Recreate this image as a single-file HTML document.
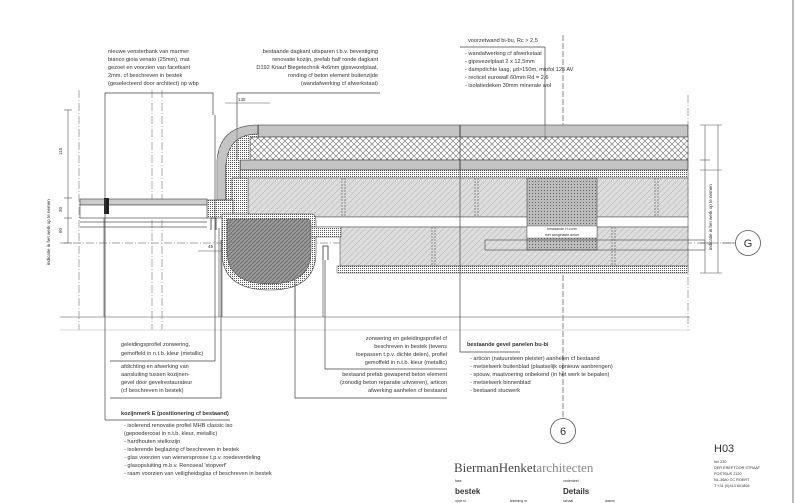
<!DOCTYPE html>
<html><head><meta charset="utf-8"><style>
html,body{margin:0;padding:0;background:#fff;}
svg{display:block;}
text{font-family:"Liberation Sans",sans-serif;fill:#333;}
.n{font-size:5.6px;}
</style></head><body>
<svg width="805" height="503" viewBox="0 0 805 503" xmlns="http://www.w3.org/2000/svg">
<defs>
<pattern id="vh" width="2" height="4" patternUnits="userSpaceOnUse"><rect width="2" height="4" fill="#fff"/><line x1="1" y1="0" x2="1" y2="4" stroke="#555" stroke-width="0.7"/></pattern>
<pattern id="xh" width="6" height="6" patternUnits="userSpaceOnUse"><rect width="6" height="6" fill="#fff"/><path d="M0 0L6 6M6 0L0 6" stroke="#666" stroke-width="0.6"/></pattern>
<pattern id="dh" width="6" height="6" patternUnits="userSpaceOnUse"><rect width="6" height="6" fill="#ddd"/><path d="M0 6L6 0" stroke="#bbb" stroke-width="0.7"/></pattern>
<pattern id="dot" width="2" height="2" patternUnits="userSpaceOnUse"><rect width="2" height="2" fill="#fff"/><rect width="1" height="1" fill="#555"/></pattern>
<pattern id="dk" width="4" height="4" patternUnits="userSpaceOnUse"><rect width="4" height="4" fill="#999"/><path d="M0 4L4 0" stroke="#666" stroke-width="0.8"/></pattern>
<pattern id="sp" width="3" height="3" patternUnits="userSpaceOnUse"><rect width="3" height="3" fill="#bbb"/><rect x="1" y="1" width="1" height="1" fill="#666"/></pattern>
</defs>
<rect width="805" height="503" fill="#fff"/>
<!-- right border -->
<line x1="793" y1="0" x2="793" y2="503" stroke="#777" stroke-width="1"/>

<!-- construction lines -->
<g stroke="#888" stroke-width="0.7" stroke-dasharray="8 2 1 2" fill="none">
<line x1="79" y1="90" x2="79" y2="330"/>
<line x1="152" y1="90" x2="152" y2="330"/>
<line x1="162" y1="90" x2="162" y2="330"/>
<line x1="688" y1="95" x2="688" y2="330"/>
<line x1="60" y1="243" x2="735" y2="243"/>
</g>
<line x1="563" y1="35" x2="563" y2="418" stroke="#555" stroke-width="0.7" stroke-dasharray="6 2"/>
<line x1="60" y1="317" x2="690" y2="317" stroke="#888" stroke-width="0.7"/>
<line x1="60" y1="330" x2="690" y2="330" stroke="#ccc" stroke-width="0.7"/>

<!-- wall body -->
<rect x="258" y="125" width="430" height="12" fill="url(#vh)" stroke="#444" stroke-width="0.6"/>
<rect x="250" y="137" width="438" height="23" fill="url(#xh)" stroke="#444" stroke-width="0.6"/>
<rect x="240" y="160" width="448" height="10" fill="url(#vh)" stroke="#444" stroke-width="0.6"/>
<rect x="240" y="170" width="448" height="8" fill="url(#dot)" stroke="#444" stroke-width="0.5"/>
<rect x="248" y="178" width="440" height="39" fill="url(#dh)" stroke="#555" stroke-width="0.6"/>
<rect x="248" y="217" width="440" height="10" fill="#fff" stroke="#555" stroke-width="0.6"/>
<rect x="340" y="227" width="348" height="39" fill="url(#dh)" stroke="#555" stroke-width="0.6"/>
<rect x="337" y="266" width="351" height="7" fill="url(#dot)" stroke="#444" stroke-width="0.5"/>
<rect x="527" y="178" width="70" height="72" fill="url(#sp)" stroke="#444" stroke-width="0.6"/>
<rect x="485" y="240" width="220" height="10" fill="none" stroke="#444" stroke-width="0.6"/>
<rect x="527" y="226" width="70" height="12" fill="#fff" stroke="#444" stroke-width="0.4"/>
<text x="562" y="230" font-size="3.6" text-anchor="middle">bestaande H-vorm</text>
<text x="562" y="236" font-size="3.6" text-anchor="middle">met aangelaste anker</text>
<g stroke="#555" stroke-width="0.6" stroke-dasharray="2 1">
<line x1="475" y1="178" x2="475" y2="217"/><line x1="478" y1="178" x2="478" y2="217"/>
<line x1="655" y1="178" x2="655" y2="217"/><line x1="658" y1="178" x2="658" y2="217"/>
<line x1="342" y1="178" x2="342" y2="217"/><line x1="345" y1="178" x2="345" y2="217"/>
<line x1="432" y1="227" x2="432" y2="266"/><line x1="435" y1="227" x2="435" y2="266"/>
<line x1="612" y1="227" x2="612" y2="266"/><line x1="615" y1="227" x2="615" y2="266"/>
</g>
<!-- rounded corner -->
<path d="M258 125 Q220 125 217 160 L217 200 L226 200 L226 165 Q228 134 258 134 Z" fill="url(#vh)" stroke="#444" stroke-width="0.6"/>
<path d="M226 165 Q228 134 258 134 L258 137 L250 137 L250 160 L240 160 L240 178 L232 178 L232 200 L226 200 Z" fill="url(#dot)" stroke="#444" stroke-width="0.5"/>
<rect x="232" y="178" width="16" height="40" fill="url(#dot)" stroke="#444" stroke-width="0.5"/>
<rect x="207" y="200" width="26" height="18" fill="url(#dot)" stroke="#333" stroke-width="0.6"/>
<!-- lower bulge -->
<path d="M222 214 L312 214 Q316 214 316 222 L316 252 Q316 290 270 290 Q222 290 222 252 Z" fill="url(#dot)" stroke="#444" stroke-width="0.6"/>
<path d="M227 219 L308 219 Q311 219 311 226 L311 252 Q311 284 270 284 Q227 284 227 252 Z" fill="url(#dk)" stroke="#444" stroke-width="0.5"/>
<rect x="311" y="227" width="30" height="10" fill="url(#dot)" stroke="#444" stroke-width="0.5"/>
<path d="M323 260 L323 246 L328 246 L328 260 M211 230 L211 218 L216 218 L216 230" stroke="#333" fill="none" stroke-width="0.8"/>

<!-- window glass -->
<g stroke="#555" stroke-width="0.7" fill="none">
<rect x="80" y="199" width="127" height="6" fill="#ccc"/>
<rect x="80" y="205" width="127" height="13" fill="#fff"/>
<line x1="80" y1="222" x2="207" y2="222"/>
<line x1="80" y1="227" x2="207" y2="227"/>
<line x1="104" y1="218" x2="104" y2="317"/>
<line x1="219" y1="228" x2="219" y2="317"/><line x1="222" y1="228" x2="222" y2="317"/>
<line x1="295" y1="280" x2="295" y2="317"/><line x1="323" y1="260" x2="323" y2="317"/>
</g>
<rect x="104" y="198" width="5" height="16" fill="#222"/>
<!-- left dims -->
<g stroke="#555" stroke-width="0.6"><line x1="68" y1="110" x2="68" y2="243"/>
<line x1="64" y1="110" x2="72" y2="110"/><line x1="64" y1="198" x2="72" y2="198"/><line x1="64" y1="218" x2="72" y2="218"/><line x1="64" y1="243" x2="72" y2="243"/>
<line x1="225" y1="103" x2="270" y2="103"/><line x1="198" y1="251" x2="222" y2="251"/></g>
<text x="62" y="155" font-size="4.5" transform="rotate(-90 62 155)">115</text>
<text x="62" y="212" font-size="4.5" transform="rotate(-90 62 212)">30</text>
<text x="62" y="233" font-size="4.5" transform="rotate(-90 62 233)">60</text>
<text x="238" y="101" font-size="4.5">135</text>
<text x="208" y="248" font-size="4.5">45</text>
<text x="50" y="265" font-size="4.5" transform="rotate(-90 50 265)">indicatie in het werk op te nemen</text>
<!-- right dims -->
<g stroke="#555" stroke-width="0.6"><line x1="705" y1="125" x2="705" y2="273"/><line x1="718" y1="125" x2="718" y2="273"/>
<line x1="700" y1="125" x2="722" y2="125"/><line x1="700" y1="160" x2="710" y2="160"/><line x1="700" y1="170" x2="722" y2="170"/><line x1="700" y1="243" x2="710" y2="243"/><line x1="700" y1="273" x2="722" y2="273"/>
<line x1="722" y1="243" x2="735" y2="243"/></g>
<text x="712" y="250" font-size="4.5" transform="rotate(-90 712 250)">indicatie in het werk op te nemen</text>
<circle cx="748" cy="243" r="12.5" fill="#fff" stroke="#555" stroke-width="0.8"/>
<text x="748" y="247" font-size="11" text-anchor="middle">G</text>
<circle cx="563" cy="431" r="12.5" fill="#fff" stroke="#555" stroke-width="0.8"/>
<text x="563" y="435" font-size="11" text-anchor="middle">6</text>

<!-- leader lines -->
<g stroke="#444" stroke-width="0.7" fill="none">
<path d="M105 420 L105 93 L213 93 L213 115"/>
<path d="M215 115 L215 361 L110 361"/>
<path d="M221 240 L221 398 L110 398"/>
<path d="M237 160 L237 93 L380 93"/>
<path d="M325 260 L325 369 L447 369"/>
<path d="M295 284 L295 398 L447 398"/>
<path d="M460 125 L460 352 L520 352"/>
<path d="M460 47 L545 47"/>
<path d="M545 47 L545 140"/>
<path d="M105 420 L230 420"/>
</g>

<!-- notes -->
<g class="n">
<text x="108" y="53">nieuwe vensterbank van marmer</text>
<text x="108" y="61">bianco gioia venato (25mm), mat</text>
<text x="108" y="69">gezoet en voorzien van facetkant</text>
<text x="108" y="77">2mm, cf beschreven in bestek</text>
<text x="108" y="85">(geselecteerd door architect) op wbp</text>
<g text-anchor="end">
<text x="378" y="53">bestaande dagkant uitsparen t.b.v. bevestiging</text>
<text x="378" y="61">renovatie kozijn, prefab half ronde dagkant</text>
<text x="378" y="69">D192 Knauf Biegetechnik 4x6mm gipsvezelplaat,</text>
<text x="378" y="77">ronding cf beton element buitenzijde</text>
<text x="378" y="85">(wandafwerking cf afwerkstaat)</text>
</g>
<text x="468" y="42">voorzetwand bi-bu, Rc &gt; 2,5</text>
<text x="465" y="55">- wandafwerking cf afwerkstaat</text>
<text x="465" y="63">- gipsvezelplaat 2 x 12,5mm</text>
<text x="465" y="71">- dampdichte laag, µd&gt;150m, miofol 125 AV</text>
<text x="465" y="79">- recticel eurowall 60mm Rd = 2,6</text>
<text x="465" y="87">- isolatiedeken 30mm minerale wol</text>

<text x="121" y="346">geleidingsprofiel zonwering,</text>
<text x="121" y="355">gemoffeld in n.t.b. kleur (metallic)</text>
<text x="121" y="368">afdichting en afwerking van</text>
<text x="121" y="376">aansluiting tussen kozijnen-</text>
<text x="121" y="384">gevel door gevelrestaurateur</text>
<text x="121" y="392">(cf beschreven in bestek)</text>
<text x="121" y="415" font-weight="bold">kozijnmerk E (positionering cf bestaand)</text>
<text x="124" y="427">- isolerend renovatie profiel MHB classic iso</text>
<text x="124" y="435">(gepoedercoat in n.t.b. kleur, metallic)</text>
<text x="124" y="443">- hardhouten stelkozijn</text>
<text x="124" y="451">- isolerende beglazing cf beschreven in bestek</text>
<text x="124" y="459">- glas voorzien van wienersprosse t.p.v. roedeverdeling</text>
<text x="124" y="467">- glasopsluiting m.b.v. Renoseal 'stopverf'</text>
<text x="124" y="475">- raam voorzien van veiligheidsglas cf beschreven in bestek</text>

<g text-anchor="end">
<text x="447" y="340">zonwering en geleidingsprofiel cf</text>
<text x="447" y="348">beschreven in bestek (tevens</text>
<text x="447" y="356">toepassen t.p.v. dichte delen), profiel</text>
<text x="447" y="364">gemoffeld in n.t.b. kleur (metallic)</text>
<text x="447" y="376">bestaand prefab gewapend beton element</text>
<text x="447" y="384">(zonodig beton reparatie uitvoeren), articon</text>
<text x="447" y="392">afwerking aanhelen cf bestaand</text>
</g>
<text x="467" y="346" font-weight="bold">bestaande gevel panelen bu-bi</text>
<text x="470" y="360">- articon (natuursteen pleister) aanhelen cf bestaand</text>
<text x="470" y="368">- metselwerk buitenblad (plaatselijk opnieuw aanbrengen)</text>
<text x="470" y="376">- spouw, maatvoering onbekend (in het werk te bepalen)</text>
<text x="470" y="384">- metselwerk binnenblad</text>
<text x="470" y="392">- bestaand stucwerk</text>
</g>

<!-- title block -->
<text x="454" y="472" font-size="13" style="font-family:'Liberation Serif',serif;fill:#444">BiermanHenket<tspan fill="#888">architecten</tspan></text>
<text x="455" y="482" font-size="3.5">fase</text>
<text x="455" y="494" font-size="8" font-weight="bold">bestek</text>
<text x="563" y="482" font-size="3.5">onderdeel</text>
<text x="563" y="494" font-size="8" font-weight="bold">Details</text>
<text x="455" y="502" font-size="3.5">opdr.nr</text><text x="510" y="502" font-size="3.5">tekening nr</text><text x="563" y="502" font-size="3.5">schaal</text><text x="605" y="502" font-size="3.5">datum</text>
<text x="714" y="452" font-size="11" fill="#555">H03</text>
<g font-size="3.8" fill="#999"><text x="714" y="463">bnl 230</text><text x="714" y="469">DER EREPTOOR STRAAT</text><text x="714" y="475">POSTBUS 2120</text><text x="714" y="481">NL-3680 CC ROERT</text><text x="714" y="487">T +31 (0)413 601808</text></g>
</svg>
</body></html>
